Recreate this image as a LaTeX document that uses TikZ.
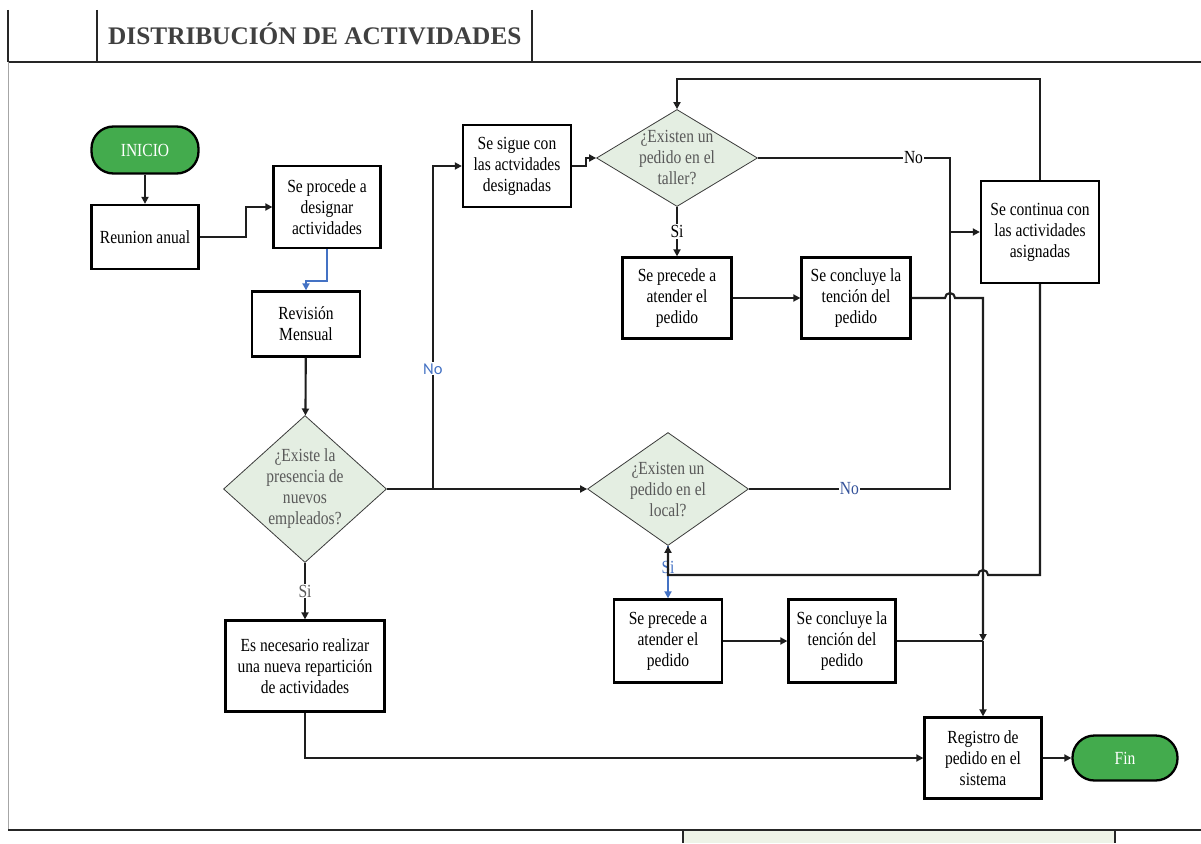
\documentclass[tikz,border=0pt]{standalone}
\usepackage{fontspec}
\setmainfont{Liberation Serif}
\newfontfamily\flowfont{Liberation Serif}[FakeStretch=0.84]
\newfontfamily\notefont{Carlito}
\usetikzlibrary{calc,arrows.meta,shapes.geometric}

\definecolor{linec}{HTML}{1E1E1E}
\definecolor{startgreen}{HTML}{43AB4D}
\definecolor{decfill}{HTML}{E4EEE2}
\definecolor{decline}{HTML}{3A3A3A}
\definecolor{dectext}{HTML}{595959}
\definecolor{flowblue}{HTML}{4472C4}
\definecolor{darkblue}{HTML}{34529A}
\definecolor{titlegray}{HTML}{404040}
\definecolor{bandgreen}{HTML}{EEF3E7}

\begin{document}
\begin{tikzpicture}[x=1pt,y=-1pt,
  font=\flowfont\fontsize{18.5}{21}\selectfont,
  box/.style={draw=black, line width=2.3pt, fill=white, align=center, inner sep=2pt},
  term/.style={draw=black, line width=2.3pt, fill=startgreen, text=white,
    rounded corners=22pt, align=center},
  dec/.style={shape=diamond, draw=decline, line width=0.8pt, fill=decfill, inner sep=0pt},
  dectxt/.style={text=dectext, align=center, inner sep=0pt},
  line/.style={draw=linec, line width=2.1pt},
  arr/.style={line, -{Triangle[length=7pt,width=7pt]}},
  blarr/.style={draw=flowblue, line width=2.1pt, -{Triangle[length=7pt,width=7pt]}},
  lbl/.style={fill=white, inner sep=1pt},
  hdr/.style={draw=black!85, line width=1.3pt}
]
\useasboundingbox (0,0) rectangle (1201,843);

% page frame: header row and footer row
\draw[hdr] (8,10) -- (8,62);
\draw[hdr] (97,10) -- (97,62);
\draw[hdr] (532,10) -- (532,62);
\draw[hdr] (8,62) -- (1201,62);
\draw[draw=black!35, line width=0.8pt] (8,62) -- (8,830);
\fill[bandgreen] (683,830) rectangle (1115,843);
\draw[hdr] (8,830) -- (1201,830);
\draw[hdr] (683,830) -- (683,843);
\draw[hdr] (1115,830) -- (1115,843);
\node[font=\rmfamily\fontsize{25.3}{30}\selectfont\bfseries, text=titlegray, anchor=west, inner sep=0pt]
  (title) at (108,34) {DISTRIBUCIÓN DE ACTIVIDADES};

% column and row guides for the routed connectors
\coordinate (colA) at (950,0);
\coordinate (colB) at (983,0);
\coordinate (rowL) at (0,575);

% nodes
\node[term, minimum width=107, minimum height=47] (inicio) at (145,150) {INICIO};
\node[box, minimum width=107, minimum height=64] (reunion) at (145,237) {Reunion anual};
\node[box, minimum width=107, minimum height=82] (procede) at (327,207) {Se procede a\\designar\\actividades};
\node[box, minimum width=108, minimum height=65] (revision) at (306,324) {Revisión\\Mensual};
\node[dec, minimum width=163, minimum height=147] (emp) at (305,489) {};
\node[dectxt] (emp-t) at (305,489) {¿Existe la\\presencia de\\nuevos\\empleados?};
\node[box, minimum width=159, minimum height=91] (necesario) at (305,666) {Es necesario realizar\\una nueva repartición\\de actividades};
\node[box, minimum width=108, minimum height=82] (sigue) at (517,166) {Se sigue con\\las actvidades\\designadas};
\node[dec, minimum width=161, minimum height=97] (taller) at (677,158) {};
\node[dectxt] (taller-t) at (677,158) {¿Existen un\\pedido en el\\taller?};
\node[box, minimum width=109, minimum height=81] (prec1) at (677,298) {Se precede a\\atender el\\pedido};
\node[box, minimum width=109, minimum height=81] (conc1) at (856,298) {Se concluye la\\tención del\\pedido};
\node[box, minimum width=118, minimum height=102] (continua) at (1040,232) {Se continua con\\las actividades\\asignadas};
\node[dec, minimum width=161, minimum height=113] (local) at (668,489) {};
\node[dectxt] (local-t) at (668,489) {¿Existen un\\pedido en el\\local?};
\node[box, minimum width=108, minimum height=83] (prec2) at (668,641) {Se precede a\\atender el\\pedido};
\node[box, minimum width=107, minimum height=83] (conc2) at (842,641) {Se concluye la\\tención del\\pedido};
\node[box, minimum width=117, minimum height=81] (registro) at (983,758) {Registro de\\pedido en el\\sistema};
\node[term, minimum width=105, minimum height=45] (fin) at (1125,758) {Fin};

% connectors
\draw[arr] (inicio) -- (reunion);
\draw[arr] (reunion.east) -- ++(46,0) |- (procede.west);
\draw[blarr] (procede.south) -- ++(0,32) -| (revision.north);
\draw[arr] (revision) -- (emp);
\draw[arr] (emp.east) -- (local.west);
\draw[arr] (emp.east) -- ++(46,0) coordinate (j1) |- node[pos=0.186, lbl, text=flowblue, font=\notefont\fontsize{16.5}{18}\selectfont] {No} (sigue.west);
\draw[arr] (emp.south) -- node[lbl, text=dectext] {Si} (necesario.north);
\draw[arr] (necesario.south) |- (registro.west);
\draw[arr] (sigue.east) -- ++(14,0) |- (taller.west);
\draw[line] (taller.east) -- node[pos=0.81, lbl] {No} (taller.east -| colA)
  -- (local.east -| colA) -- node[lbl, text=darkblue] {No} (local.east);
\draw[arr, line width=2.6pt] (continua.west -| colA) -- (continua.west);
\draw[arr] (taller.south) -- node[lbl] {Si} (prec1.north);
\draw[arr] (prec1) -- (conc1);
\draw[arr] (conc1.east) -- ($(conc1.east -| colA)+(-5pt,0)$)
  arc[start angle=180, end angle=0, radius=5pt]
  -- (conc1.east -| colB) -- (conc2.east -| colB);
\draw[line] (conc2.east) -- (conc2.east -| colB);
\draw[arr] (conc2.east -| colB) -- (registro.north);
\draw[arr] (continua.north) -- ++(0,-101) -| (taller.north);
\draw[blarr] (local.south) -- node[pos=0.42, inner sep=0pt, text=flowblue] {Si} (prec2.north);
\draw[arr] (continua.south) -- (continua.south |- rowL)
  -- ($(colB |- rowL)+(5pt,0)$) arc[start angle=0, end angle=180, radius=5pt]
  -- (local.south |- rowL) -- (local.south);
\draw[arr] (prec2) -- (conc2);
\draw[arr] (registro) -- (fin);
\end{tikzpicture}
\end{document}
